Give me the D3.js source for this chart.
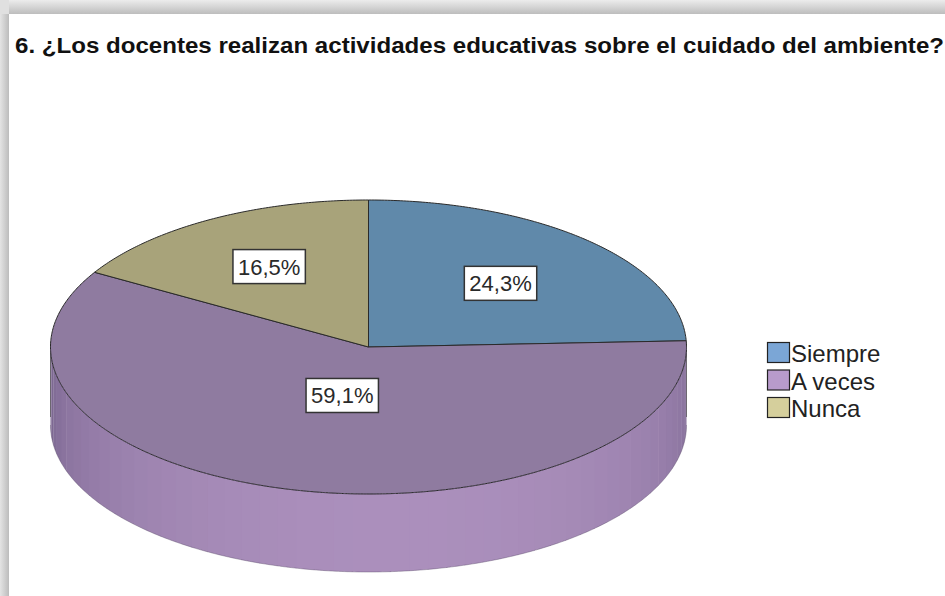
<!DOCTYPE html>
<html>
<head>
<meta charset="utf-8">
<script src="https://cdn.jsdelivr.net/npm/d3@7"></script>
<style>
  html, body { margin: 0; padding: 0; background: #fff; }
  svg { display: block; font-family: "Liberation Sans", Arial, sans-serif; }
</style>
</head>
<body>
<div id="chart"></div>
<script>
// data
const title = "6. ¿Los docentes realizan actividades educativas sobre el cuidado del ambiente?";
const categories = ["Siempre", "A veces", "Nunca"];
const percents = [24.3, 59.1, 16.5];
const labels = ["24,3%", "59,1%", "16,5%"];

// colours (top face / legend)
const topColors = ["#6089aa", "#8f7ba0", "#a8a37a"];
const legendColors = ["#7ba6d6", "#b89bcb", "#d5cf9c"];
const sideDark = ["#4d6d8a", "#7a6690", "#8a8560"];
const sideLight = ["#7fa3c4", "#ab8fbc", "#c3bd90"];

const width = 945, height = 596;
const cx = 368.5, cy = 347, rx = 318, ry = 147, depth = 78;
// where the % boxes sit, as fraction of the radius
const labelR = [0.6, 0.34, 0.63];

const svg = d3.select("#chart").append("svg")
    .attr("width", width)
    .attr("height", height);

// frame shadow
const defs = svg.append("defs");
const gTop = defs.append("linearGradient").attr("id", "gtop")
    .attr("x1", 0).attr("y1", 0).attr("x2", 0).attr("y2", 1);
gTop.append("stop").attr("offset", "0%").attr("stop-color", "#ececec");
gTop.append("stop").attr("offset", "100%").attr("stop-color", "#bdbdbd");
const gLeft = defs.append("linearGradient").attr("id", "gleft")
    .attr("x1", 0).attr("y1", 0).attr("x2", 1).attr("y2", 0);
gLeft.append("stop").attr("offset", "0%").attr("stop-color", "#e4e4e4");
gLeft.append("stop").attr("offset", "100%").attr("stop-color", "#bcbcbc");

svg.append("rect").attr("x", 0).attr("y", 0).attr("width", width).attr("height", 14).attr("fill", "url(#gtop)");
svg.append("rect").attr("x", 0).attr("y", 14).attr("width", 9).attr("height", height - 14).attr("fill", "url(#gleft)");
svg.append("rect").attr("x", 0).attr("y", 0).attr("width", 9).attr("height", 14).attr("fill", "#e0e0e0");

// title
svg.append("text")
    .attr("x", 15)
    .attr("y", 53)
    .attr("font-size", 22.5)
    .attr("font-weight", "bold")
    .attr("fill", "#111")
    .attr("textLength", 929)
    .attr("lengthAdjust", "spacingAndGlyphs")
    .text(title);

// pie angles (clockwise from 12 o'clock)
const pie = d3.pie().sort(null).value(d => d)(percents);

const pt = (a, dy = 0) => [cx + rx * Math.sin(a), cy - ry * Math.cos(a) + dy];
const line = d3.line();

function arcPoints(a0, a1, dy = 0) {
  const n = Math.max(2, Math.ceil((a1 - a0) / 0.01));
  return d3.range(n + 1).map(i => pt(a0 + (a1 - a0) * i / n, dy));
}

// side wall (only the front half is visible)
const side = svg.append("g");
pie.forEach((s, i) => {
  const a0 = Math.max(s.startAngle, Math.PI / 2);
  const a1 = Math.min(s.endAngle, Math.PI * 3 / 2);
  if (a1 <= a0) return;
  const shade = d3.interpolateRgb(sideDark[i], sideLight[i]);
  const step = 0.06;
  for (let a = a0; a < a1; a += step) {
    const b = Math.min(a + step + 0.004, a1);
    const m = (a + b) / 2;
    const t = Math.pow(Math.max(0, Math.cos(m - Math.PI * 0.97)), 0.7);
    const pts = arcPoints(a, b).concat(arcPoints(a, b, depth).reverse());
    side.append("path")
        .attr("d", line(pts) + "Z")
        .attr("fill", shade(t));
  }
  // outline of the wall
  const outline = arcPoints(a0, a1, depth);
  side.append("path")
      .attr("d", line(outline))
      .attr("fill", "none")
      .attr("stroke", "#5a4a6a")
      .attr("stroke-opacity", 0.5)
      .attr("stroke-width", 0.8);
});
// vertical edges at left/right
[Math.PI / 2, Math.PI * 3 / 2].forEach(a => {
  const p = pt(a);
  side.append("line")
      .attr("x1", p[0]).attr("y1", p[1] - 5)
      .attr("x2", p[0]).attr("y2", p[1] + depth - 8)
      .attr("stroke", "#333")
      .attr("stroke-opacity", 0.6)
      .attr("stroke-width", 1);
});

// top face
const topFace = svg.append("g");
pie.forEach((s, i) => {
  const pts = [[cx, cy]].concat(arcPoints(s.startAngle, s.endAngle));
  topFace.append("path")
      .attr("d", line(pts) + "Z")
      .attr("fill", topColors[i])
      .attr("stroke", "#2a2a2a")
      .attr("stroke-width", 1)
      .attr("stroke-linejoin", "round");
});
// rim line between top and wall
topFace.append("path")
    .attr("d", line(arcPoints(Math.PI / 2, Math.PI * 3 / 2)))
    .attr("fill", "none")
    .attr("stroke", "#6a5a7a")
    .attr("stroke-width", 0.8)
    .attr("stroke-dasharray", "3,2")
    .attr("stroke-opacity", 0.6);

// % labels
const lab = svg.append("g");
pie.forEach((s, i) => {
  const m = (s.startAngle + s.endAngle) / 2;
  const x = cx + rx * labelR[i] * Math.sin(m);
  const y = cy - ry * labelR[i] * Math.cos(m);
  const g = lab.append("g").attr("transform", `translate(${x},${y})`);
  const t = g.append("text")
      .attr("text-anchor", "middle")
      .attr("dy", "0.36em")
      .attr("font-size", 22)
      .attr("fill", "#2a2a2a")
      .text(labels[i]);
  const w = t.node().getComputedTextLength();
  g.insert("rect", "text")
      .attr("x", -w / 2 - 5)
      .attr("y", -17)
      .attr("width", w + 10)
      .attr("height", 34)
      .attr("fill", "#fff")
      .attr("stroke", "#333")
      .attr("stroke-width", 1.5);
});

// legend
const legend = svg.append("g").attr("transform", "translate(767,342)");
categories.forEach((c, i) => {
  const row = legend.append("g").attr("transform", `translate(0,${i * 27.5})`);
  row.append("rect")
      .attr("x", 0.5).attr("y", 0.5)
      .attr("width", 22).attr("height", 20)
      .attr("fill", legendColors[i])
      .attr("stroke", "#222")
      .attr("stroke-width", 1.2);
  row.append("text")
      .attr("x", 24)
      .attr("y", 20)
      .attr("font-size", 24)
      .attr("fill", "#222")
      .text(c);
});
</script>
</body>
</html>
